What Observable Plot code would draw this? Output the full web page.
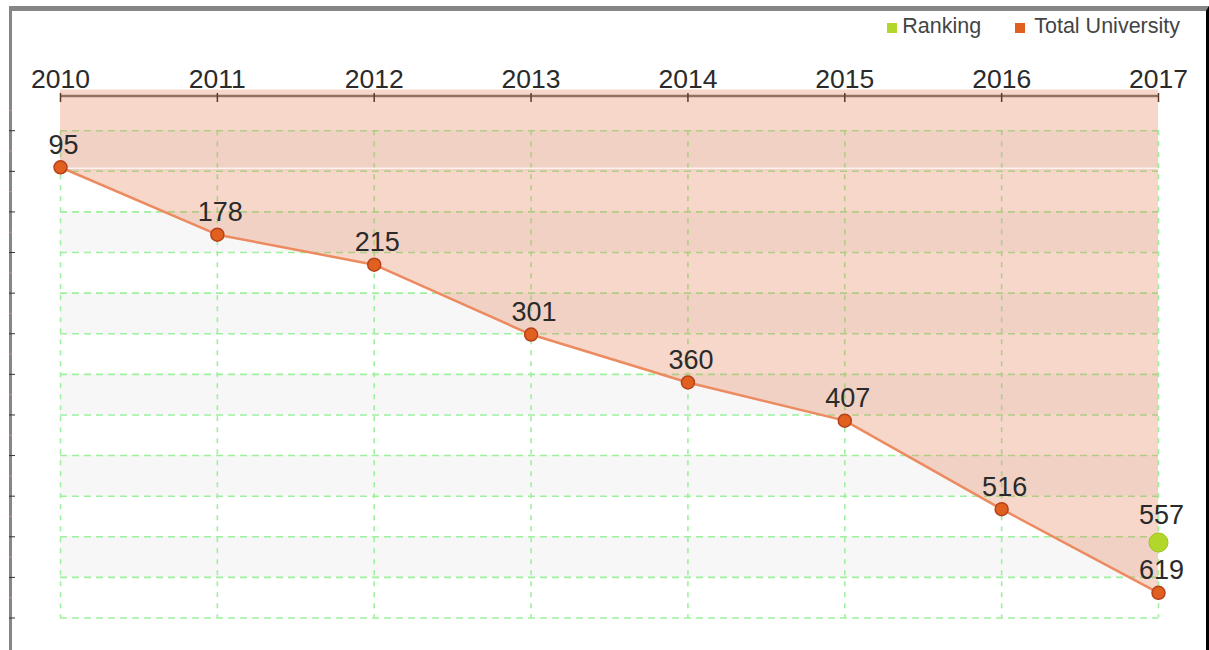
<!DOCTYPE html>
<html>
<head>
<meta charset="utf-8">
<script src="https://cdn.jsdelivr.net/npm/d3@7"></script>
<script src="https://cdn.jsdelivr.net/npm/@observablehq/plot@0.6"></script>
<style>
  html, body { margin: 0; padding: 0; background: #fff; }
  body { width: 1209px; height: 650px; overflow: hidden; position: relative; font-family: "Liberation Sans", Arial, sans-serif; }
  #wrap { position: absolute; left: 9px; top: 6px; width: 1194px; height: 639px;
          border-top: 5px solid #868686; border-left: 3px solid #868686; border-right: 3px solid #000; }
  #legend { height: 34px; line-height: 30px; font-size: 21.5px; color: #444; text-align: right; padding-right: 26px; box-sizing: border-box; white-space: nowrap; }
  #legend .sw { display: inline-block; width: 10px; height: 10px; vertical-align: baseline; }
  #chart { position: relative; z-index: 2; }
  #chart svg { display: block; overflow: visible; }
</style>
</head>
<body>
<div id="wrap">
  <div id="legend"></div>
  <div id="chart"></div>
</div>
<script>
// ---- data ----
const years = [2010, 2011, 2012, 2013, 2014, 2015, 2016, 2017];
const totalUniversity = [95, 178, 215, 301, 360, 407, 516, 619];
const rankingYears = [2017];
const rankingValues = [557];
const gridTicks = [50, 100, 150, 200, 250, 300, 350, 400, 450, 500, 550, 600, 650];
const minorTicks = [25, 75, 125, 175, 225, 275, 325, 375, 425, 475, 525, 575, 625];
const bandStarts = [50, 150, 250, 350, 450, 550];
const bandEnds = [100, 200, 300, 400, 500, 600];
const seriesNames = ["Ranking", "Total University"];
const seriesColors = ["#b2d62a", "#e2601f"];

// ---- tables ----
const total = years.map((y, i) => ({year: y, rank: totalUniversity[i]}));
const ranking = rankingYears.map((y, i) => ({year: y, rank: rankingValues[i]}));
const bands = bandStarts.map((s, i) => ({lo: s, hi: bandEnds[i]}));

// ---- legend ----
const legend = document.getElementById("legend");
legend.innerHTML =
  `<span class="sw" style="background:${seriesColors[0]};margin-right:5px"></span>${seriesNames[0]}` +
  `<span class="sw" style="background:${seriesColors[1]};margin-left:34px;margin-right:9px"></span>${seriesNames[1]}`;

// ---- chart ----
const font = "Liberation Sans, Arial, sans-serif";
const chart = Plot.plot({
  width: 1194,
  height: 605,
  marginLeft: 48,
  marginRight: 48,
  marginTop: 44.6,
  marginBottom: 32.5,
  style: {fontFamily: font, overflow: "visible", background: "transparent"},
  x: {type: "linear", domain: [years[0], years[years.length - 1]], label: null},
  y: {domain: [0, 650], reverse: true, label: null},
  marks: [
    // alternating bands
    Plot.rect(bands, {x1: years[0], x2: years[years.length - 1], y1: "lo", y2: "hi", fill: "#f7f7f7"}),
    // grid
    Plot.ruleY(gridTicks, {stroke: "#9ef09e", strokeWidth: 1.6, strokeDasharray: "7,5"}),
    Plot.ruleX(years, {y1: gridTicks[0], y2: gridTicks[gridTicks.length - 1], stroke: "#9ef09e", strokeWidth: 1.6, strokeDasharray: "5,6"}),
    // area from top to the line
    Plot.areaY(total, {x: "year", y1: 0, y2: "rank", fill: "#e17a4e", fillOpacity: 0.3}),
    Plot.ruleY([100], {dy: -3, stroke: "#ffffff", strokeWidth: 1.5, strokeOpacity: 0.7}),
    // top axis line
    Plot.ruleY([0], {dy: 6, stroke: "#94705f", strokeWidth: 2.5}),
    Plot.axisX({anchor: "top", ticks: years, tickSize: 9, dy: 11.4, tickFormat: () => "", label: null, stroke: "#5a3a2a", strokeWidth: 1.5}),
    Plot.axisX({anchor: "top", ticks: years, tickSize: 0, tickPadding: 2, tickFormat: d => String(d), label: null, fontSize: 26.5, fill: "#2a2a2a"}),
    // left ticks on the border
    Plot.axisY({anchor: "left", ticks: gridTicks, tickSize: 6, dx: -45, tickFormat: () => "", label: null, stroke: "#333"}),
    Plot.axisY({anchor: "left", ticks: minorTicks, tickSize: 3, dx: -48, tickFormat: () => "", label: null, stroke: "#d48a8a"}),
    // line + dots
    Plot.line(total, {x: "year", y: "rank", stroke: "#ec8a60", strokeWidth: 2.5}),
    Plot.dot(total, {x: "year", y: "rank", r: 6.5, fill: seriesColors[1], stroke: "#b5421a", strokeWidth: 1.5}),
    Plot.dot(ranking, {x: "year", y: "rank", r: 9.5, fill: seriesColors[0], stroke: "#a0c41f", strokeWidth: 1}),
    // value labels
    Plot.text(total, {x: "year", y: "rank", text: d => String(d.rank), dy: -22, dx: 3, fontSize: 27, fill: "#2a2a2a"}),
    Plot.text(ranking, {x: "year", y: "rank", text: d => String(d.rank), dy: -27, dx: 3, fontSize: 27, fill: "#2a2a2a"})
  ]
});
document.getElementById("chart").appendChild(chart);
</script>
</body>
</html>
